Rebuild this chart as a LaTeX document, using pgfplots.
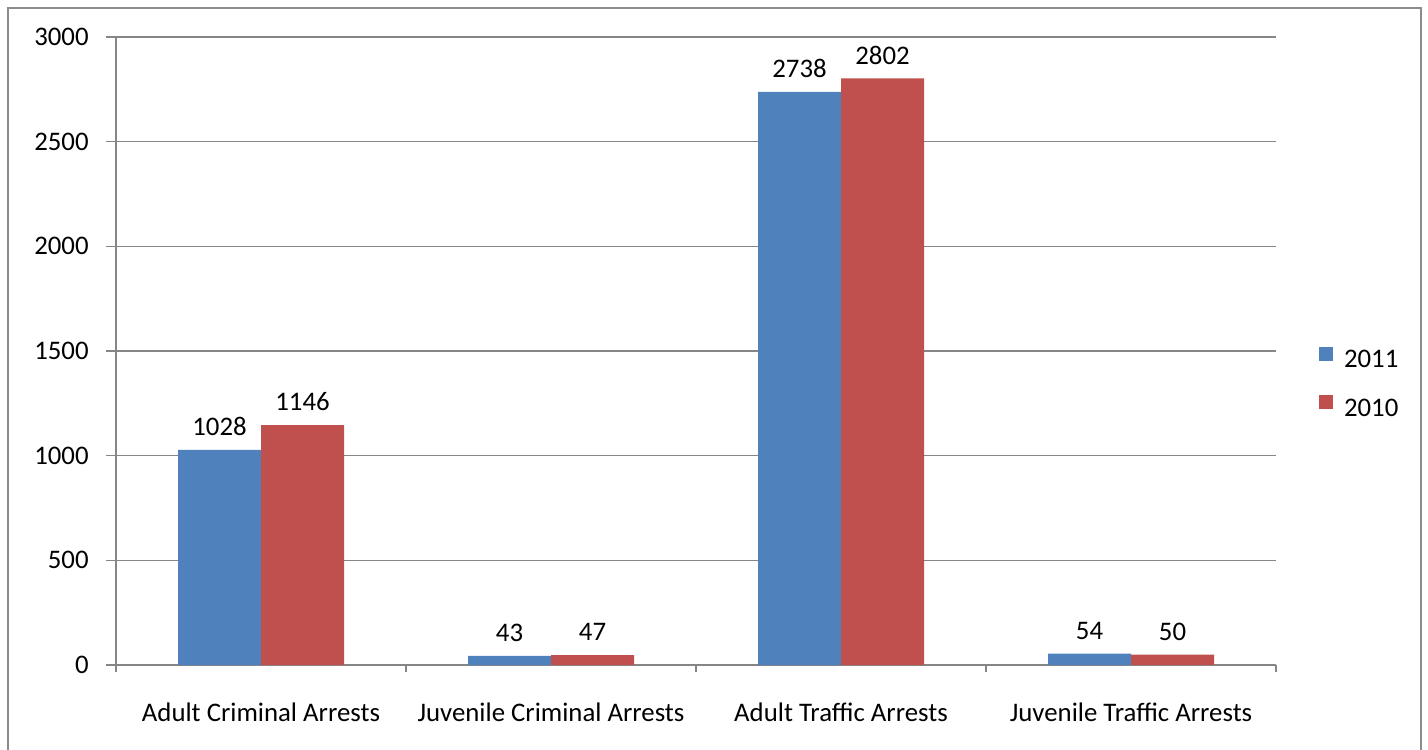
\documentclass[border=0pt]{standalone}
\usepackage{fontspec}
\setmainfont{Carlito}
\usepackage{pgfplots}
\pgfplotsset{compat=1.18}
\definecolor{barblue}{RGB}{79,129,189}
\definecolor{barred}{RGB}{192,80,77}
\definecolor{axisgray}{RGB}{134,134,134}
\definecolor{framegray}{RGB}{140,140,140}

\begin{document}
\begin{tikzpicture}
\fontsize{13.4}{16}\selectfont
\useasboundingbox (0,0) rectangle (714pt,374.5pt);
\draw[framegray, line width=1pt] (4pt,-5pt) -- (4pt,370.5pt) -- (710.5pt,370.5pt) -- (710.5pt,-5pt);
\begin{axis}[
  at={(58pt,42pt)}, anchor=south west,
  width=580pt, height=314pt, scale only axis,
  ybar=0pt, bar width=41.5pt,
  xmin=-0.5, xmax=3.5, ymin=0, ymax=3000,
  xtick={0,1,2,3},
  xticklabels={Adult Criminal Arrests, Juvenile Criminal Arrests, Adult Traffic Arrests, Juvenile Traffic Arrests},
  minor xtick={-0.5,0.5,1.5,2.5,3.5},
  ytick={0,500,...,3000},
  axis lines*=left,
  axis line style={axisgray, line width=0.75pt, -},
  tick align=outside,
  major tick length=5pt, minor tick length=3.5pt,
  tick style={axisgray, line width=0.75pt},
  major x tick style={draw=none},
  ymajorgrids,
  major grid style={axisgray, line width=0.75pt},
  /pgf/number format/.cd, 1000 sep={}, assume math mode=true,
  /pgfplots/.cd,
  tick label style={font=\fontsize{13.4}{16}\selectfont, text=black},
  yticklabel style={inner sep=0pt, anchor=east, xshift=-8.5pt},
  xticklabel style={inner sep=0pt, anchor=base, yshift=-23pt},
  nodes near coords,
  every node near coord/.append style={font=\fontsize{13.4}{16}\selectfont, text=black, inner sep=0pt, text depth=0pt, yshift=7pt},
  legend image code/.code={\fill[#1] (0pt,-0.75pt) rectangle (7pt,6.25pt);},
  legend cell align=left,
  legend style={draw=none, fill=none, inner sep=0pt, outer sep=0pt,
    at={(1.0371,0.5064)}, anchor=north west,
    font=\fontsize{13.4}{16}\selectfont,
    nodes={inner sep=0pt, text height=8.4pt, text depth=0pt},
    row sep=13.8pt,
    /tikz/every odd column/.append style={column sep=5.5pt}},
]
\addplot[fill=barblue, draw=none] coordinates {(0,1028) (1,43) (2,2738) (3,54)};
\addplot[fill=barred, draw=none] coordinates {(0,1146) (1,47) (2,2802) (3,50)};
\legend{2011,2010}
\end{axis}
\end{tikzpicture}
\end{document}
